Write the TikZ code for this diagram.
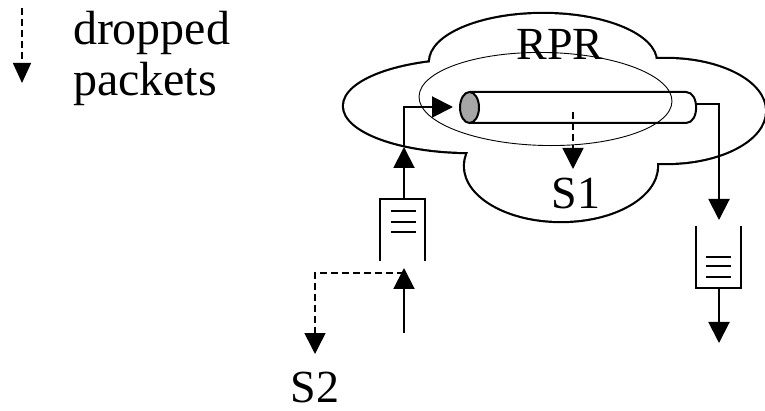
\documentclass[tikz,border=0pt]{standalone}
\usepackage{fontspec}
\setmainfont{Liberation Serif}
\usetikzlibrary{arrows.meta}
\begin{document}
\begin{tikzpicture}[x=1pt,y=-1pt,line width=2pt,
  tip/.style={-{Triangle[length=21pt,width=21pt]}},
  smalltip/.style={-{Triangle[length=20pt,width=18pt]}},
  drop/.style={line width=1.6pt,dash pattern=on 7pt off 4pt},
  lbl/.style={font=\fontsize{46}{50}\selectfont,inner sep=0pt},
  leglbl/.style={font=\fontsize{48}{50}\selectfont,inner sep=0pt},
  queue/.style={minimum width=43pt,minimum height=60pt,inner sep=0pt}]
\useasboundingbox (0,0) rectangle (765,411);

% legend
\coordinate (legTop) at (22,8);
\coordinate (legTip) at (22,83);
\draw[drop,smalltip] (legTop) -- (legTip);
\node[leglbl,anchor=base west] (leg1) at (72,45) {dropped};
\node[leglbl,anchor=base west] (leg2) at (72,96) {packets};

% RPR cloud: union outline of four ellipses
\begin{scope}[line width=4.4pt]
  \draw (543,62) ellipse [x radius=113pt,y radius=48pt];
  \draw (470,106) ellipse [x radius=126pt,y radius=46pt];
  \draw (666,111) ellipse [x radius=99pt,y radius=52pt];
  \draw (561,166) ellipse [x radius=96pt,y radius=55pt];
\end{scope}
\fill[white] (543,62) ellipse [x radius=113pt,y radius=48pt];
\fill[white] (470,106) ellipse [x radius=126pt,y radius=46pt];
\fill[white] (666,111) ellipse [x radius=99pt,y radius=52pt];
\fill[white] (561,166) ellipse [x radius=96pt,y radius=55pt];

% thin inner ellipse
\draw[line width=0.9pt,rotate around={-1.1:(545.5,99)}] (545.5,99) ellipse [x radius=126.5pt,y radius=46.5pt];

% cylinder
\draw (469.5,92) -- (686,92) .. controls (699.5,92) and (699.5,123) .. (686,123) -- (469.5,123);
\draw[fill=gray!70] (469.5,107.5) ellipse [x radius=9.5pt,y radius=15.5pt];
\coordinate (cylIn) at (453,107);
\coordinate (cylOut) at (696,104);

\node[lbl,anchor=base] (rpr) at (560,60) {RPR};
\node[lbl,anchor=base] (s1) at (576,209) {S1};
\node[lbl,anchor=base] (s2) at (315,402) {S2};

% dropped packets at S1
\coordinate (dropS1) at (573,112);
\coordinate (dropS1tip) at (573,169);
\draw[drop,tip] (dropS1) -- (dropS1tip);

% left queue
\node[queue] (qL) at (402.5,230) {};
\draw (qL.south west) -- (qL.north west) -- (qL.north east) -- (qL.south east);
\draw[line width=1.5pt] (391,211) -- (416,211) (391,222) -- (416,222) (391,232) -- (416,232);
\coordinate (qLout) at (404,200);
\coordinate (upTip) at (404,147);
\coordinate (bendL) at (404,107);
\draw[tip] (qLout) -- (upTip);
\draw[tip] (upTip) -- (bendL) -- (cylIn);

% input to left queue and drops to S2
\coordinate (inBot) at (404,333);
\coordinate (inTip) at (404,268);
\coordinate (dropStart) at (404,273);
\coordinate (dropBend) at (315,273);
\coordinate (dropTip) at (315,354);
\draw[tip] (inBot) -- (inTip);
\draw[drop,tip] (dropStart) -- (dropBend) -- (dropTip);

% right queue
\node[queue] (qR) at (718,257) {};
\draw (qR.north west) -- (qR.south west) -- (qR.south east) -- (qR.north east);
\draw[line width=1.5pt] (706,257) -- (731,257) (706,266) -- (731,266) (706,277) -- (731,277);
\coordinate (bendR) at (719,104);
\coordinate (qRin) at (719,220);
\coordinate (qRout) at (719,287);
\coordinate (outTip) at (719,343);
\draw[tip] (cylOut) -- (bendR) -- (qRin);
\draw[tip] (qRout) -- (outTip);
\end{tikzpicture}
\end{document}
